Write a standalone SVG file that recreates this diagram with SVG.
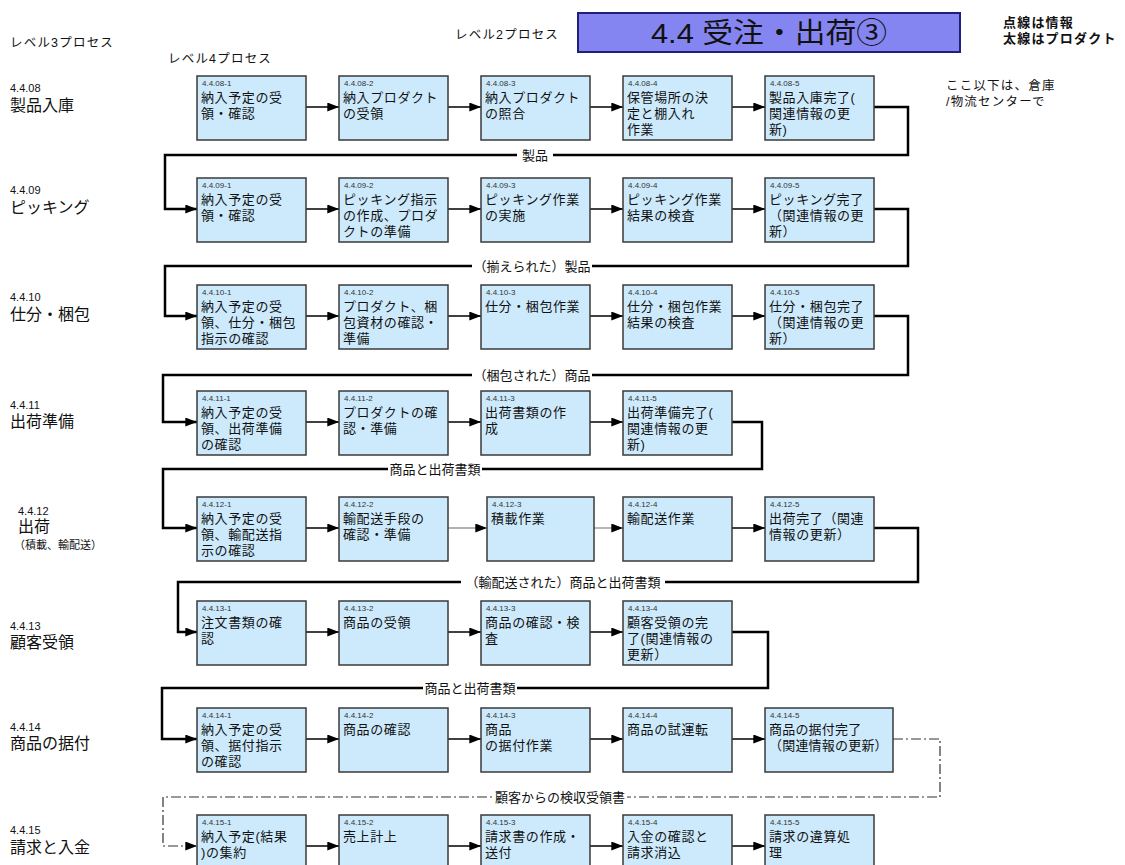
<svg xmlns="http://www.w3.org/2000/svg" width="1125" height="865" viewBox="0 0 1125 865">
<style>
text{font-family:"Liberation Sans","Noto Sans CJK JP",sans-serif;fill:#111}
.box{fill:#cdeafc;stroke:#3a3a3a;stroke-width:1.5}
.t{font-size:13px;letter-spacing:0.6px}
.id{font-size:8px;letter-spacing:0;fill:#333}
.hd{font-size:12.5px;letter-spacing:1.2px}
.lv{font-size:16px}
.num{font-size:11px}
.sub{font-size:11px}
.note{font-size:13px;letter-spacing:1.2px;font-weight:bold}
.note2{font-size:12.5px;letter-spacing:1.2px}
.lab{font-size:13px;text-anchor:middle}
.lbg{fill:#fff}
.arr{stroke:#000;stroke-width:1.4;fill:none}
.arrg{stroke:#999;stroke-width:1.4;fill:none}
.prod{stroke:#000;stroke-width:2.5;fill:none}
.info{stroke:#333;stroke-width:1.2;fill:none;stroke-dasharray:10 3 2 3}
</style>
<defs>
<marker id="ah" viewBox="0 0 13 10" refX="13" refY="5" markerWidth="13" markerHeight="9" markerUnits="userSpaceOnUse" orient="auto"><path d="M0,0 L13,5 L0,10 z" fill="#000"/></marker>
</defs>

<g id="header">
<text class="hd" x="10" y="47">レベル3プロセス</text>
<text class="hd" x="168" y="63">レベル4プロセス</text>
<text class="hd" x="455" y="39">レベル2プロセス</text>
<rect x="578" y="13" width="382" height="39" fill="#8585f2" stroke="#20207a" stroke-width="2"/>
<text x="651" y="43" font-size="28" textLength="236" lengthAdjust="spacingAndGlyphs">4.4 受注・出荷③</text>
<text class="note" x="1003" y="27">点線は情報<tspan x="1003" y="43">太線はプロダクト</tspan></text>
<text class="note2" x="946" y="90">ここ以下は、倉庫<tspan x="946" y="106">/物流センターで</tspan></text>
</g>

<g id="level3">
<text x="10" y="92"><tspan class="num">4.4.08</tspan><tspan class="lv" x="10" y="111">製品入庫</tspan></text>
<text x="10" y="194"><tspan class="num">4.4.09</tspan><tspan class="lv" x="10" y="213">ピッキング</tspan></text>
<text x="10" y="301"><tspan class="num">4.4.10</tspan><tspan class="lv" x="10" y="320">仕分・梱包</tspan></text>
<text x="10" y="409"><tspan class="num">4.4.11</tspan><tspan class="lv" x="10" y="427">出荷準備</tspan></text>
<text x="18" y="515"><tspan class="num">4.4.12</tspan><tspan class="lv" x="18" y="532">出荷</tspan><tspan class="sub" x="14" y="549">（積載、輸配送）</tspan></text>
<text x="10" y="630"><tspan class="num">4.4.13</tspan><tspan class="lv" x="10" y="648">顧客受領</tspan></text>
<text x="10" y="731"><tspan class="num">4.4.14</tspan><tspan class="lv" x="10" y="749">商品の据付</tspan></text>
<text x="10" y="834"><tspan class="num">4.4.15</tspan><tspan class="lv" x="10" y="853">請求と入金</tspan></text>
</g>

<g id="connectors">
<path class="arr" d="M306,107 H339" marker-end="url(#ah)"/>
<path class="arr" d="M448,107 H481" marker-end="url(#ah)"/>
<path class="arr" d="M590,107 H623" marker-end="url(#ah)"/>
<path class="arr" d="M732,107 H765" marker-end="url(#ah)"/>
<path class="prod" d="M874,107 H908 V155 H165 V209 H197" marker-end="url(#ah)"/>

<path class="arr" d="M306,209 H339" marker-end="url(#ah)"/>
<path class="arr" d="M448,209 H481" marker-end="url(#ah)"/>
<path class="arr" d="M590,209 H623" marker-end="url(#ah)"/>
<path class="arr" d="M732,209 H765" marker-end="url(#ah)"/>
<path class="prod" d="M874,209 H908 V266 H165 V316 H197" marker-end="url(#ah)"/>

<path class="arr" d="M306,316 H339" marker-end="url(#ah)"/>
<path class="arr" d="M448,316 H481" marker-end="url(#ah)"/>
<path class="arr" d="M590,316 H623" marker-end="url(#ah)"/>
<path class="arr" d="M732,316 H765" marker-end="url(#ah)"/>
<path class="prod" d="M874,316 H908 V375 H163 V422 H197" marker-end="url(#ah)"/>

<path class="arr" d="M306,422 H339" marker-end="url(#ah)"/>
<path class="arr" d="M448,422 H481" marker-end="url(#ah)"/>
<path class="arr" d="M590,422 H623" marker-end="url(#ah)"/>
<path class="prod" d="M732,422 H762 V469 H163 V528 H197" marker-end="url(#ah)"/>

<path class="arr" d="M306,528 H339" marker-end="url(#ah)"/>
<path class="arrg" d="M448,528 H487" marker-end="url(#ah)"/>
<path class="arrg" d="M594,528 H623" marker-end="url(#ah)"/>
<path class="arr" d="M732,528 H765" marker-end="url(#ah)"/>
<path class="prod" d="M874,528 H918 V582 H178 V632 H197" marker-end="url(#ah)"/>

<path class="arr" d="M306,632 H339" marker-end="url(#ah)"/>
<path class="arr" d="M448,632 H481" marker-end="url(#ah)"/>
<path class="arr" d="M590,632 H623" marker-end="url(#ah)"/>
<path class="prod" d="M732,632 H768 V688 H162 V739 H197" marker-end="url(#ah)"/>

<path class="arr" d="M306,739 H339" marker-end="url(#ah)"/>
<path class="arr" d="M448,739 H481" marker-end="url(#ah)"/>
<path class="arr" d="M590,739 H623" marker-end="url(#ah)"/>
<path class="arr" d="M732,739 H765" marker-end="url(#ah)"/>
<path class="info" d="M893,739 H940 V797 H163 V846 H197" marker-end="url(#ah)"/>

<path class="arr" d="M306,846 H339" marker-end="url(#ah)"/>
<path class="arr" d="M448,846 H481" marker-end="url(#ah)"/>
<path class="arr" d="M590,846 H623" marker-end="url(#ah)"/>
<path class="arr" d="M732,846 H765" marker-end="url(#ah)"/>

<rect class="lbg" x="517" y="147" width="36" height="16"/><text class="lab" x="535" y="160">製品</text>
<rect class="lbg" x="472" y="258" width="120" height="16"/><text class="lab" x="532" y="271">（揃えられた）製品</text>
<rect class="lbg" x="472" y="367" width="120" height="16"/><text class="lab" x="532" y="380">（梱包された）商品</text>
<rect class="lbg" x="388" y="461" width="94" height="16"/><text class="lab" x="435" y="474">商品と出荷書類</text>
<rect class="lbg" x="461" y="574" width="204" height="16"/><text class="lab" x="563" y="587">（輸配送された）商品と出荷書類</text>
<rect class="lbg" x="423" y="680" width="94" height="16"/><text class="lab" x="470" y="693">商品と出荷書類</text>
<rect class="lbg" x="493" y="789" width="134" height="16"/><text class="lab" x="560" y="802">顧客からの検収受領書</text>
</g>

<g id="n4408-1"><rect class="box" x="197" y="76" width="109" height="64"/><text class="t"><tspan class="id" x="202" y="86">4.4.08-1</tspan><tspan x="201" y="102">納入予定の受</tspan><tspan x="201" dy="16">領・確認</tspan></text></g>
<g id="n4408-2"><rect class="box" x="339" y="76" width="109" height="64"/><text class="t"><tspan class="id" x="344" y="86">4.4.08-2</tspan><tspan x="343" y="102">納入プロダクト</tspan><tspan x="343" dy="16">の受領</tspan></text></g>
<g id="n4408-3"><rect class="box" x="481" y="76" width="109" height="64"/><text class="t"><tspan class="id" x="486" y="86">4.4.08-3</tspan><tspan x="485" y="102">納入プロダクト</tspan><tspan x="485" dy="16">の照合</tspan></text></g>
<g id="n4408-4"><rect class="box" x="623" y="76" width="109" height="64"/><text class="t"><tspan class="id" x="628" y="86">4.4.08-4</tspan><tspan x="627" y="102">保管場所の決</tspan><tspan x="627" dy="16">定と棚入れ</tspan><tspan x="627" dy="16">作業</tspan></text></g>
<g id="n4408-5"><rect class="box" x="765" y="76" width="109" height="64"/><text class="t"><tspan class="id" x="770" y="86">4.4.08-5</tspan><tspan x="769" y="102">製品入庫完了(</tspan><tspan x="769" dy="16">関連情報の更</tspan><tspan x="769" dy="16">新)</tspan></text></g>

<g id="n4409-1"><rect class="box" x="197" y="178" width="109" height="64"/><text class="t"><tspan class="id" x="202" y="188">4.4.09-1</tspan><tspan x="201" y="204">納入予定の受</tspan><tspan x="201" dy="16">領・確認</tspan></text></g>
<g id="n4409-2"><rect class="box" x="339" y="178" width="109" height="64"/><text class="t"><tspan class="id" x="344" y="188">4.4.09-2</tspan><tspan x="343" y="204">ピッキング指示</tspan><tspan x="343" dy="16">の作成、プロダ</tspan><tspan x="343" dy="16">クトの準備</tspan></text></g>
<g id="n4409-3"><rect class="box" x="481" y="178" width="109" height="64"/><text class="t"><tspan class="id" x="486" y="188">4.4.09-3</tspan><tspan x="485" y="204">ピッキング作業</tspan><tspan x="485" dy="16">の実施</tspan></text></g>
<g id="n4409-4"><rect class="box" x="623" y="178" width="109" height="64"/><text class="t"><tspan class="id" x="628" y="188">4.4.09-4</tspan><tspan x="627" y="204">ピッキング作業</tspan><tspan x="627" dy="16">結果の検査</tspan></text></g>
<g id="n4409-5"><rect class="box" x="765" y="178" width="109" height="64"/><text class="t"><tspan class="id" x="770" y="188">4.4.09-5</tspan><tspan x="769" y="204">ピッキング完了</tspan><tspan x="769" dy="16">（関連情報の更</tspan><tspan x="769" dy="16">新）</tspan></text></g>

<g id="n4410-1"><rect class="box" x="197" y="285" width="109" height="64"/><text class="t"><tspan class="id" x="202" y="295">4.4.10-1</tspan><tspan x="201" y="311">納入予定の受</tspan><tspan x="201" dy="16">領、仕分・梱包</tspan><tspan x="201" dy="16">指示の確認</tspan></text></g>
<g id="n4410-2"><rect class="box" x="339" y="285" width="109" height="64"/><text class="t"><tspan class="id" x="344" y="295">4.4.10-2</tspan><tspan x="343" y="311">プロダクト、梱</tspan><tspan x="343" dy="16">包資材の確認・</tspan><tspan x="343" dy="16">準備</tspan></text></g>
<g id="n4410-3"><rect class="box" x="481" y="285" width="109" height="64"/><text class="t"><tspan class="id" x="486" y="295">4.4.10-3</tspan><tspan x="485" y="311">仕分・梱包作業</tspan></text></g>
<g id="n4410-4"><rect class="box" x="623" y="285" width="109" height="64"/><text class="t"><tspan class="id" x="628" y="295">4.4.10-4</tspan><tspan x="627" y="311">仕分・梱包作業</tspan><tspan x="627" dy="16">結果の検査</tspan></text></g>
<g id="n4410-5"><rect class="box" x="765" y="285" width="109" height="64"/><text class="t"><tspan class="id" x="770" y="295">4.4.10-5</tspan><tspan x="769" y="311">仕分・梱包完了</tspan><tspan x="769" dy="16">（関連情報の更</tspan><tspan x="769" dy="16">新）</tspan></text></g>

<g id="n4411-1"><rect class="box" x="197" y="391" width="109" height="64"/><text class="t"><tspan class="id" x="202" y="401">4.4.11-1</tspan><tspan x="201" y="417">納入予定の受</tspan><tspan x="201" dy="16">領、出荷準備</tspan><tspan x="201" dy="16">の確認</tspan></text></g>
<g id="n4411-2"><rect class="box" x="339" y="391" width="109" height="64"/><text class="t"><tspan class="id" x="344" y="401">4.4.11-2</tspan><tspan x="343" y="417">プロダクトの確</tspan><tspan x="343" dy="16">認・準備</tspan></text></g>
<g id="n4411-3"><rect class="box" x="481" y="391" width="109" height="64"/><text class="t"><tspan class="id" x="486" y="401">4.4.11-3</tspan><tspan x="485" y="417">出荷書類の作</tspan><tspan x="485" dy="16">成</tspan></text></g>
<g id="n4411-5"><rect class="box" x="623" y="391" width="109" height="64"/><text class="t"><tspan class="id" x="628" y="401">4.4.11-5</tspan><tspan x="627" y="417">出荷準備完了(</tspan><tspan x="627" dy="16">関連情報の更</tspan><tspan x="627" dy="16">新)</tspan></text></g>

<g id="n4412-1"><rect class="box" x="197" y="497" width="109" height="64"/><text class="t"><tspan class="id" x="202" y="507">4.4.12-1</tspan><tspan x="201" y="523">納入予定の受</tspan><tspan x="201" dy="16">領、輸配送指</tspan><tspan x="201" dy="16">示の確認</tspan></text></g>
<g id="n4412-2"><rect class="box" x="339" y="497" width="109" height="64"/><text class="t"><tspan class="id" x="344" y="507">4.4.12-2</tspan><tspan x="343" y="523">輸配送手段の</tspan><tspan x="343" dy="16">確認・準備</tspan></text></g>
<g id="n4412-3"><rect class="box" x="487" y="497" width="107" height="64"/><text class="t"><tspan class="id" x="492" y="507">4.4.12-3</tspan><tspan x="491" y="523">積載作業</tspan></text></g>
<g id="n4412-4"><rect class="box" x="623" y="497" width="109" height="64"/><text class="t"><tspan class="id" x="628" y="507">4.4.12-4</tspan><tspan x="627" y="523">輸配送作業</tspan></text></g>
<g id="n4412-5"><rect class="box" x="765" y="497" width="109" height="64"/><text class="t"><tspan class="id" x="770" y="507">4.4.12-5</tspan><tspan x="769" y="523">出荷完了（関連</tspan><tspan x="769" dy="16">情報の更新）</tspan></text></g>

<g id="n4413-1"><rect class="box" x="197" y="601" width="109" height="64"/><text class="t"><tspan class="id" x="202" y="611">4.4.13-1</tspan><tspan x="201" y="627">注文書類の確</tspan><tspan x="201" dy="16">認</tspan></text></g>
<g id="n4413-2"><rect class="box" x="339" y="601" width="109" height="64"/><text class="t"><tspan class="id" x="344" y="611">4.4.13-2</tspan><tspan x="343" y="627">商品の受領</tspan></text></g>
<g id="n4413-3"><rect class="box" x="481" y="601" width="109" height="64"/><text class="t"><tspan class="id" x="486" y="611">4.4.13-3</tspan><tspan x="485" y="627">商品の確認・検</tspan><tspan x="485" dy="16">査</tspan></text></g>
<g id="n4413-4"><rect class="box" x="623" y="601" width="109" height="64"/><text class="t"><tspan class="id" x="628" y="611">4.4.13-4</tspan><tspan x="627" y="627">顧客受領の完</tspan><tspan x="627" dy="16">了(関連情報の</tspan><tspan x="627" dy="16">更新）</tspan></text></g>

<g id="n4414-1"><rect class="box" x="197" y="708" width="109" height="64"/><text class="t"><tspan class="id" x="202" y="718">4.4.14-1</tspan><tspan x="201" y="734">納入予定の受</tspan><tspan x="201" dy="16">領、据付指示</tspan><tspan x="201" dy="16">の確認</tspan></text></g>
<g id="n4414-2"><rect class="box" x="339" y="708" width="109" height="64"/><text class="t"><tspan class="id" x="344" y="718">4.4.14-2</tspan><tspan x="343" y="734">商品の確認</tspan></text></g>
<g id="n4414-3"><rect class="box" x="481" y="708" width="109" height="64"/><text class="t"><tspan class="id" x="486" y="718">4.4.14-3</tspan><tspan x="485" y="734">商品</tspan><tspan x="485" dy="16">の据付作業</tspan></text></g>
<g id="n4414-4"><rect class="box" x="623" y="708" width="109" height="64"/><text class="t"><tspan class="id" x="628" y="718">4.4.14-4</tspan><tspan x="627" y="734">商品の試運転</tspan></text></g>
<g id="n4414-5"><rect class="box" x="765" y="708" width="128" height="64"/><text class="t" style="letter-spacing:0.2px"><tspan class="id" x="770" y="718">4.4.14-5</tspan><tspan x="769" y="734">商品の据付完了</tspan><tspan x="769" dy="16">（関連情報の更新）</tspan></text></g>

<g id="n4415-1"><rect class="box" x="197" y="815" width="109" height="64"/><text class="t"><tspan class="id" x="202" y="825">4.4.15-1</tspan><tspan x="201" y="841">納入予定(結果</tspan><tspan x="201" dy="16">)の集約</tspan></text></g>
<g id="n4415-2"><rect class="box" x="339" y="815" width="109" height="64"/><text class="t"><tspan class="id" x="344" y="825">4.4.15-2</tspan><tspan x="343" y="841">売上計上</tspan></text></g>
<g id="n4415-3"><rect class="box" x="481" y="815" width="109" height="64"/><text class="t"><tspan class="id" x="486" y="825">4.4.15-3</tspan><tspan x="485" y="841">請求書の作成・</tspan><tspan x="485" dy="16">送付</tspan></text></g>
<g id="n4415-4"><rect class="box" x="623" y="815" width="109" height="64"/><text class="t"><tspan class="id" x="628" y="825">4.4.15-4</tspan><tspan x="627" y="841">入金の確認と</tspan><tspan x="627" dy="16">請求消込</tspan></text></g>
<g id="n4415-5"><rect class="box" x="765" y="815" width="109" height="64"/><text class="t"><tspan class="id" x="770" y="825">4.4.15-5</tspan><tspan x="769" y="841">請求の違算処</tspan><tspan x="769" dy="16">理</tspan></text></g>
</svg>
